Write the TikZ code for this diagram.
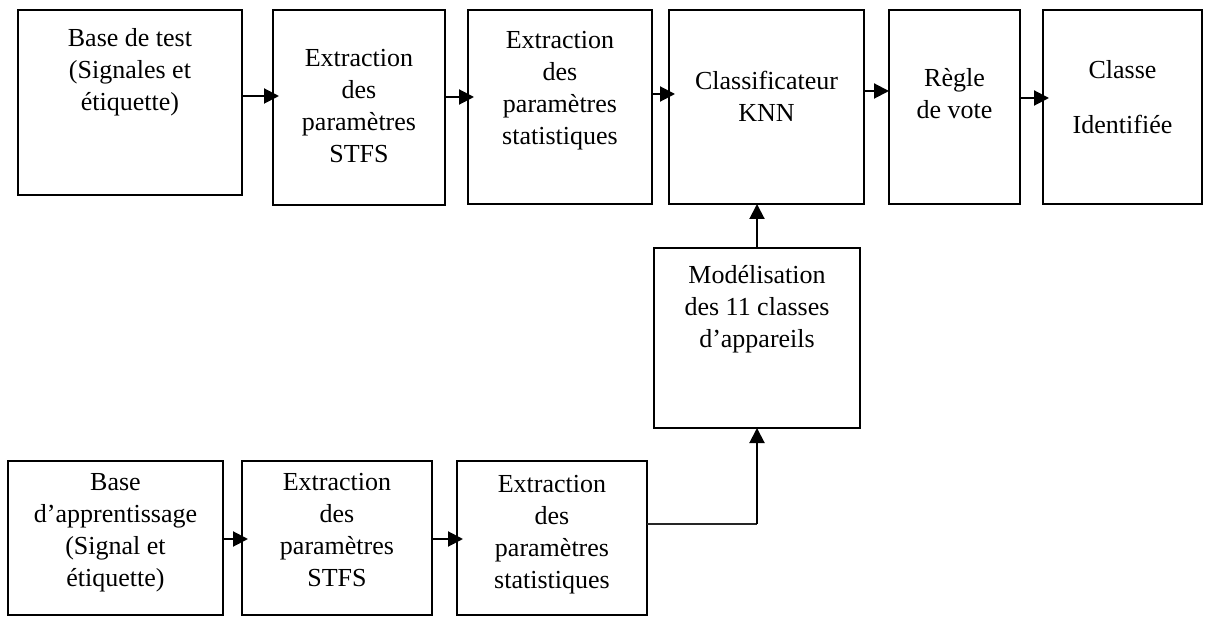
\documentclass[tikz,border=0pt]{standalone}
\usepackage{fontspec}
\setmainfont{Liberation Serif}
\usetikzlibrary{arrows.meta,positioning}

\newcommand{\blktxt}[4]{\parbox[b][#2][t]{#1}{\centering\rule{0pt}{#3}#4}}

\begin{document}
\begin{tikzpicture}[x=1pt,y=-1pt,
	blk/.style={draw,line width=2pt,inner sep=0pt,outer sep=0pt,anchor=north west,
		font=\fontsize{26}{32}\selectfont},
	flow/.style={-{Triangle[length=15pt,width=15pt]},line width=2pt},
	flowin/.style={flow,shorten >=-6pt},
	feed/.style={line width=1.3pt,black!85}]

	\useasboundingbox (0,0) rectangle (1210,617);

	% chaine de test
	\node[blk] (test) at (18,10) {\blktxt{224pt}{185pt}{37pt}{Base de test\\(Signales et\\étiquette)}};
	\node[blk,right=31pt of test.north east,anchor=north west] (stfs) {\blktxt{172pt}{195pt}{57pt}{Extraction\\des\\paramètres\\STFS}};
	\node[blk,right=23pt of stfs.north east,anchor=north west] (stat) {\blktxt{184pt}{194pt}{39pt}{Extraction\\des\\paramètres\\statistiques}};
	\node[blk,right=17pt of stat.north east,anchor=north west] (knn) {\blktxt{195pt}{194pt}{80pt}{Classificateur\\KNN}};
	\node[blk,right=25pt of knn.north east,anchor=north west] (vote) {\blktxt{131pt}{194pt}{77pt}{Règle\\de vote}};
	\node[blk,right=23pt of vote.north east,anchor=north west] (cls) {\blktxt{159pt}{194pt}{69pt}{Classe\\[23pt]Identifiée}};

	\node[blk] (modl) at (654,248) {\blktxt{206pt}{180pt}{36pt}{Modélisation\\des 11 classes\\d’appareils}};

	% chaine d'apprentissage
	\node[blk] (app) at (8,461) {\blktxt{215pt}{154pt}{29pt}{Base\\d’apprentissage\\(Signal et\\étiquette)}};
	\node[blk,right=19pt of app.north east,anchor=north west] (stfsb) {\blktxt{190pt}{154pt}{29pt}{Extraction\\des\\paramètres\\STFS}};
	\node[blk,right=25pt of stfsb.north east,anchor=north west] (statb) {\blktxt{190pt}{154pt}{31pt}{Extraction\\des\\paramètres\\statistiques}};

	\draw[flowin] ([yshift=-86pt]test.north east) -- ([yshift=-86pt]stfs.north west);
	\draw[flowin] ([yshift=-87pt]stfs.north east) -- ([yshift=-87pt]stat.north west);
	\draw[flowin] ([yshift=-84pt]stat.north east) -- ([yshift=-84pt]knn.north west);
	\draw[flow] ([yshift=-81pt]knn.north east) -- ([yshift=-81pt]vote.north west);
	\draw[flowin] ([yshift=-88pt]vote.north east) -- ([yshift=-88pt]cls.north west);
	\draw[flow] (modl.north) -- (modl.north |- knn.south);

	\draw[flowin] ([yshift=-78pt]app.north east) -- ([yshift=-78pt]stfsb.north west);
	\draw[flowin] ([yshift=-78pt]stfsb.north east) -- ([yshift=-78pt]statb.north west);
	\path ([yshift=-63pt]statb.north east) coordinate (sortie);
	\coordinate (coude) at (sortie -| modl.south);
	\draw[feed] (sortie) -- (coude);
	\draw[flow] (coude) -- (modl.south);
\end{tikzpicture}
\end{document}
